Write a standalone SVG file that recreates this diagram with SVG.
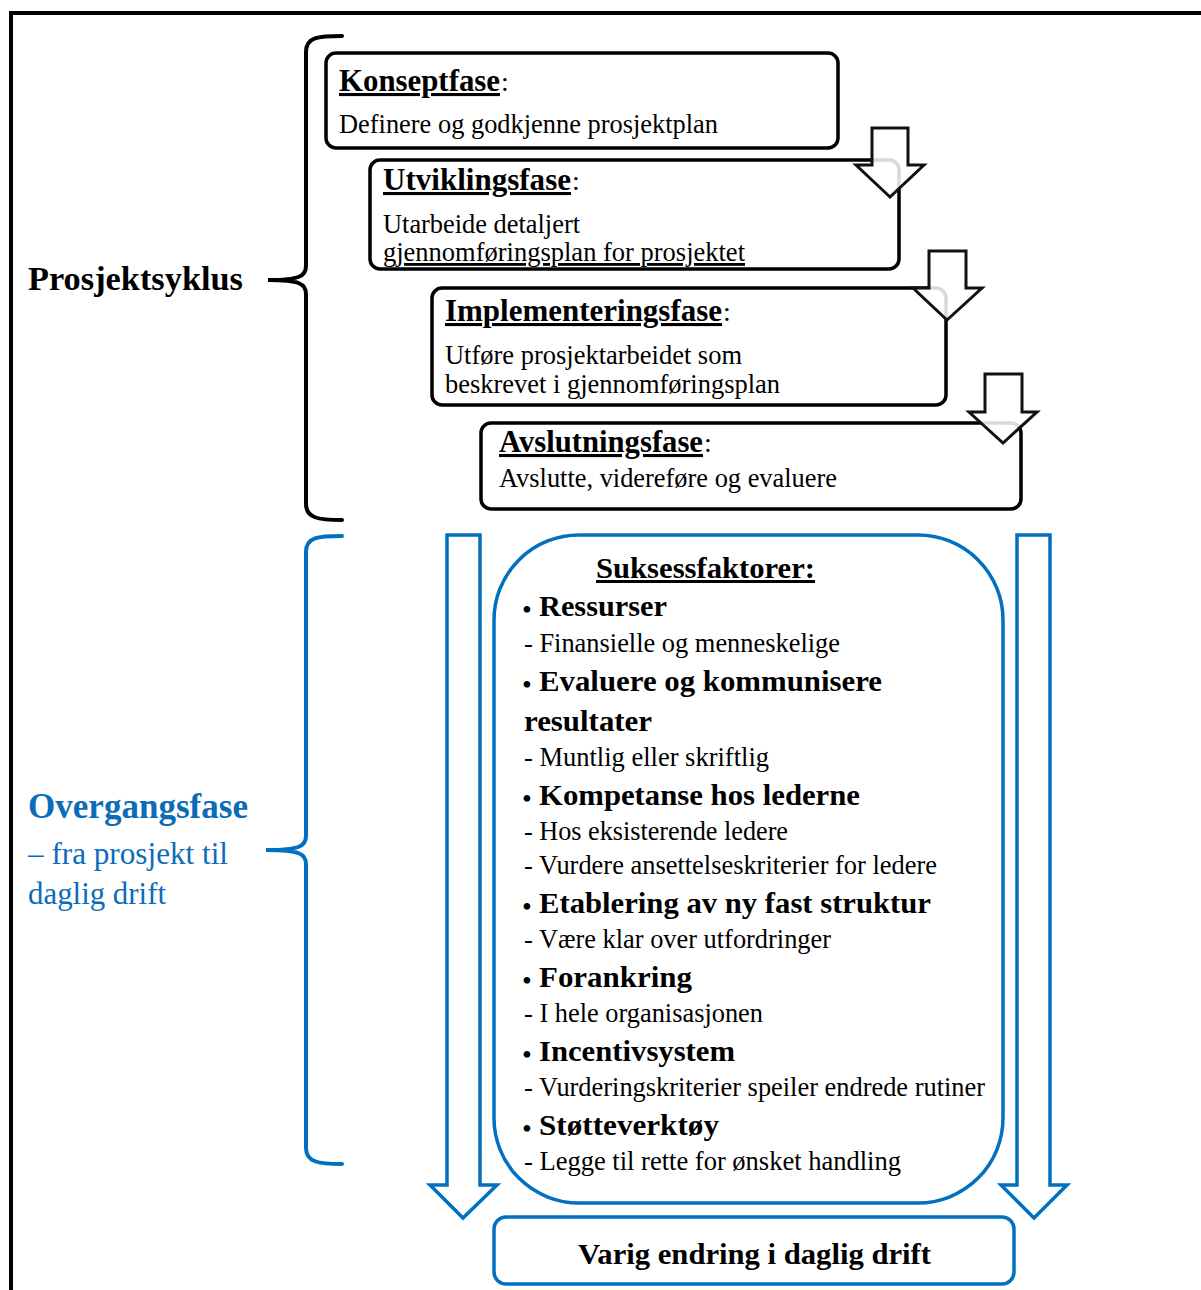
<svg xmlns="http://www.w3.org/2000/svg" width="1201" height="1290" viewBox="0 0 1201 1290">
  <style>
    text { font-family: "Liberation Serif", "Times New Roman", serif; fill: #000; }
    .b { font-weight: bold; }
    .u { text-decoration: underline; }
    .title { font-size: 31px; font-weight: bold; text-decoration: underline; }
    .body { font-size: 28px; }
    .head { font-size: 30px; font-weight: bold; }
    .item { font-size: 28px; }
    .dot { font-size: 28px; }
    .blue { fill: #0B6CBA; }
    .box { fill: #fff; stroke: #000; stroke-width: 3.5; }
    .bbox { fill: #fff; stroke: #0070C0; stroke-width: 3.5; }
    .arrow { fill: #fff; fill-opacity: 0.85; stroke: #111; stroke-width: 3; stroke-linejoin: miter; }
    .barrow { fill: #fff; stroke: #0070C0; stroke-width: 3.5; stroke-linejoin: miter; }
    .brace { fill: none; stroke: #000; stroke-width: 4; stroke-linecap: round; }
    .bbrace { fill: none; stroke: #0070C0; stroke-width: 4; stroke-linecap: round; }
  </style>

  <rect width="1201" height="1290" fill="#fff"/>

  <!-- outer frame: left and top edges only -->
  <path d="M11,1290 V13 H1201" fill="none" stroke="#000" stroke-width="4"/>

  <!-- project cycle brace and label -->
  <g id="prosjektsyklus">
    <path class="brace" d="M342,36 C318,36 306,37 306,52 V266 C306,276 300,280 268,280 C300,280 306,284 306,294 V504 C306,518 318,520 342,520"/>
    <text class="b" x="28" y="290" font-size="34" textLength="215" lengthAdjust="spacingAndGlyphs">Prosjektsyklus</text>
  </g>

  <!-- transition phase brace and label -->
  <g id="overgangsfase">
    <path class="bbrace" d="M342,536 C318,536 306,537 306,552 V836 C306,846 300,850 266,850 C300,850 306,854 306,864 V1148 C306,1162 318,1164 342,1164"/>
    <text class="b blue" x="28" y="818" font-size="35" textLength="220" lengthAdjust="spacingAndGlyphs">Overgangsfase</text>
    <text class="blue" x="28" y="864" font-size="31" textLength="200" lengthAdjust="spacingAndGlyphs">– fra prosjekt til</text>
    <text class="blue" x="28" y="904" font-size="31" textLength="138" lengthAdjust="spacingAndGlyphs">daglig drift</text>
  </g>

  <!-- phase boxes -->
  <g id="konseptfase">
    <rect class="box" x="326" y="53" width="512" height="95" rx="10"/>
    <text class="title" x="339" y="91" textLength="161" lengthAdjust="spacingAndGlyphs">Konseptfase</text>
    <text class="body" x="501" y="91">:</text>
    <text class="body" x="339" y="133" textLength="379" lengthAdjust="spacingAndGlyphs">Definere og godkjenne prosjektplan</text>
  </g>

  <g id="utviklingsfase">
    <rect class="box" x="370" y="160" width="529" height="109" rx="10"/>
    <text class="title" x="383" y="190" textLength="188" lengthAdjust="spacingAndGlyphs">Utviklingsfase</text>
    <text class="body" x="572" y="190">:</text>
    <text class="body" x="383" y="233" textLength="197" lengthAdjust="spacingAndGlyphs">Utarbeide detaljert</text>
    <text class="body u" x="383" y="261" textLength="362" lengthAdjust="spacingAndGlyphs">gjennomføringsplan for prosjektet</text>
  </g>

  <g id="implementeringsfase">
    <rect class="box" x="432" y="288" width="514" height="117" rx="10"/>
    <text class="title" x="445" y="321" textLength="277" lengthAdjust="spacingAndGlyphs">Implementeringsfase</text>
    <text class="body" x="723" y="321">:</text>
    <text class="body" x="445" y="364" textLength="297" lengthAdjust="spacingAndGlyphs">Utføre prosjektarbeidet som</text>
    <text class="body" x="445" y="393" textLength="335" lengthAdjust="spacingAndGlyphs">beskrevet i gjennomføringsplan</text>
  </g>

  <g id="avslutningsfase">
    <rect class="box" x="481" y="423" width="540" height="86" rx="10"/>
    <text class="title" x="499" y="452" textLength="204" lengthAdjust="spacingAndGlyphs">Avslutningsfase</text>
    <text class="body" x="704" y="452">:</text>
    <text class="body" x="499" y="487" textLength="338" lengthAdjust="spacingAndGlyphs">Avslutte, videreføre og evaluere</text>
  </g>

  <!-- success factors panel -->
  <g id="suksessfaktorer">
    <rect class="bbox" x="494" y="535" width="509" height="668" rx="85"/>
    <text class="head u" x="596" y="578" textLength="219" lengthAdjust="spacingAndGlyphs">Suksessfaktorer:</text>

    <text class="dot" x="522" y="619">•</text>
    <text class="head" x="539" y="616" textLength="128" lengthAdjust="spacingAndGlyphs">Ressurser</text>
    <text class="item" x="524" y="652" textLength="316" lengthAdjust="spacingAndGlyphs">- Finansielle og menneskelige</text>

    <text class="dot" x="522" y="694">•</text>
    <text class="head" x="539" y="691" textLength="343" lengthAdjust="spacingAndGlyphs">Evaluere og kommunisere</text>
    <text class="head" x="524" y="731" textLength="128" lengthAdjust="spacingAndGlyphs">resultater</text>
    <text class="item" x="524" y="766" textLength="245" lengthAdjust="spacingAndGlyphs">- Muntlig eller skriftlig</text>

    <text class="dot" x="522" y="808">•</text>
    <text class="head" x="539" y="805" textLength="321" lengthAdjust="spacingAndGlyphs">Kompetanse hos lederne</text>
    <text class="item" x="524" y="840" textLength="264" lengthAdjust="spacingAndGlyphs">- Hos eksisterende ledere</text>
    <text class="item" x="524" y="874" textLength="413" lengthAdjust="spacingAndGlyphs">- Vurdere ansettelseskriterier for ledere</text>

    <text class="dot" x="522" y="916">•</text>
    <text class="head" x="539" y="913" textLength="392" lengthAdjust="spacingAndGlyphs">Etablering av ny fast struktur</text>
    <text class="item" x="524" y="948" textLength="307" lengthAdjust="spacingAndGlyphs">- Være klar over utfordringer</text>

    <text class="dot" x="522" y="990">•</text>
    <text class="head" x="539" y="987" textLength="153" lengthAdjust="spacingAndGlyphs">Forankring</text>
    <text class="item" x="524" y="1022" textLength="239" lengthAdjust="spacingAndGlyphs">- I hele organisasjonen</text>

    <text class="dot" x="522" y="1064">•</text>
    <text class="head" x="539" y="1061" textLength="196" lengthAdjust="spacingAndGlyphs">Incentivsystem</text>
    <text class="item" x="524" y="1096" textLength="461" lengthAdjust="spacingAndGlyphs">- Vurderingskriterier speiler endrede rutiner</text>

    <text class="dot" x="522" y="1138">•</text>
    <text class="head" x="539" y="1135" textLength="180" lengthAdjust="spacingAndGlyphs">Støtteverktøy</text>
    <text class="item" x="524" y="1170" textLength="377" lengthAdjust="spacingAndGlyphs">- Legge til rette for ønsket handling</text>
  </g>

  <!-- outcome box -->
  <g id="varig-endring">
    <rect class="bbox" x="494" y="1217" width="520" height="67" rx="12"/>
    <text class="head" x="578" y="1264" textLength="353" lengthAdjust="spacingAndGlyphs">Varig endring i daglig drift</text>
  </g>

  <!-- connectors: block arrows between phases and alongside the panel -->
  <g id="connectors">
    <path class="arrow" d="M872,128 H908 V165 H924 L890,197 L856,165 H872 Z"/>
    <path class="arrow" d="M929,251 H966 V288 H982 L947,320 L913,288 H929 Z"/>
    <path class="arrow" d="M985,374 H1022 V412 H1037 L1003,443 L969,412 H985 Z"/>
    <path class="barrow" d="M447,535 H480 V1185 H497 L463,1218 L430,1185 H447 Z"/>
    <path class="barrow" d="M1017,535 H1050 V1185 H1067 L1034,1218 L1001,1185 H1017 Z"/>
  </g>
</svg>
